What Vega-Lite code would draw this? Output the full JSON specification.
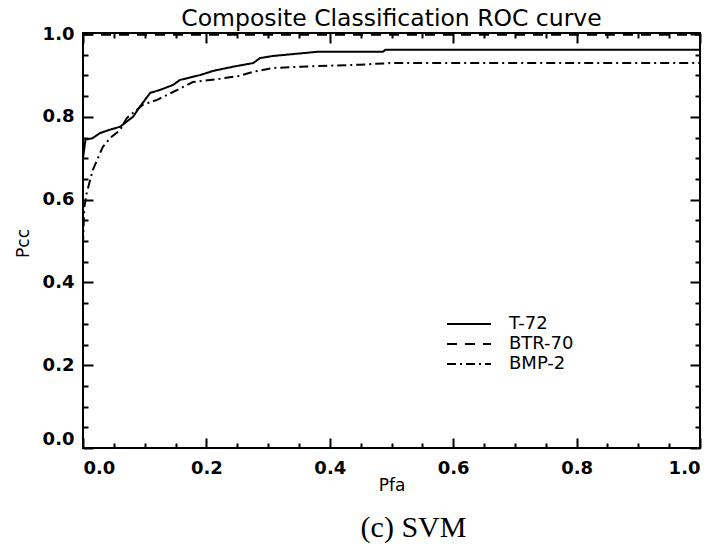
{
  "$schema": "https://vega.github.io/schema/vega-lite/v6.json",
  "width": 617,
  "height": 415,
  "autosize": {"type": "none"},
  "padding": {"left": 83, "top": 33, "right": 13, "bottom": 96},
  "background": "white",
  "title": {"text": "Composite Classification ROC curve", "font": "DejaVu Sans", "fontSize": 23.5, "fontWeight": "normal", "color": "black", "offset": -5, "anchor": "middle"},
  "config": {
    "view": {"stroke": "black", "strokeWidth": 2},
    "axis": {"domain": false, "grid": false, "tickColor": "black", "tickWidth": 2, "labelColor": "black", "titleColor": "black", "labelFont": "DejaVu Sans", "titleFont": "DejaVu Sans", "titleFontWeight": "normal"}
  },
  "data": {"values": [
    {"series": "T-72", "pfa": 0.0, "pcc": 0.70},
    {"series": "T-72", "pfa": 0.004, "pcc": 0.745},
    {"series": "T-72", "pfa": 0.015, "pcc": 0.748},
    {"series": "T-72", "pfa": 0.028, "pcc": 0.761},
    {"series": "T-72", "pfa": 0.044, "pcc": 0.769},
    {"series": "T-72", "pfa": 0.06, "pcc": 0.776},
    {"series": "T-72", "pfa": 0.081, "pcc": 0.8},
    {"series": "T-72", "pfa": 0.092, "pcc": 0.824},
    {"series": "T-72", "pfa": 0.109, "pcc": 0.858},
    {"series": "T-72", "pfa": 0.125, "pcc": 0.865},
    {"series": "T-72", "pfa": 0.146, "pcc": 0.877},
    {"series": "T-72", "pfa": 0.157, "pcc": 0.889},
    {"series": "T-72", "pfa": 0.19, "pcc": 0.901},
    {"series": "T-72", "pfa": 0.211, "pcc": 0.911},
    {"series": "T-72", "pfa": 0.243, "pcc": 0.921},
    {"series": "T-72", "pfa": 0.276, "pcc": 0.93},
    {"series": "T-72", "pfa": 0.287, "pcc": 0.942},
    {"series": "T-72", "pfa": 0.308, "pcc": 0.947},
    {"series": "T-72", "pfa": 0.379, "pcc": 0.957},
    {"series": "T-72", "pfa": 0.486, "pcc": 0.957},
    {"series": "T-72", "pfa": 0.49, "pcc": 0.962},
    {"series": "T-72", "pfa": 1.0, "pcc": 0.962},
    {"series": "BTR-70", "pfa": 0.0, "pcc": 0.998},
    {"series": "BTR-70", "pfa": 1.0, "pcc": 0.998},
    {"series": "BMP-2", "pfa": 0.0, "pcc": 0.49},
    {"series": "BMP-2", "pfa": 0.002, "pcc": 0.58},
    {"series": "BMP-2", "pfa": 0.006, "pcc": 0.616},
    {"series": "BMP-2", "pfa": 0.016, "pcc": 0.672},
    {"series": "BMP-2", "pfa": 0.023, "pcc": 0.696},
    {"series": "BMP-2", "pfa": 0.032, "pcc": 0.727},
    {"series": "BMP-2", "pfa": 0.044, "pcc": 0.749},
    {"series": "BMP-2", "pfa": 0.06, "pcc": 0.768},
    {"series": "BMP-2", "pfa": 0.071, "pcc": 0.797},
    {"series": "BMP-2", "pfa": 0.097, "pcc": 0.829},
    {"series": "BMP-2", "pfa": 0.12, "pcc": 0.841},
    {"series": "BMP-2", "pfa": 0.146, "pcc": 0.86},
    {"series": "BMP-2", "pfa": 0.178, "pcc": 0.884},
    {"series": "BMP-2", "pfa": 0.222, "pcc": 0.892},
    {"series": "BMP-2", "pfa": 0.254, "pcc": 0.899},
    {"series": "BMP-2", "pfa": 0.276, "pcc": 0.909},
    {"series": "BMP-2", "pfa": 0.308, "pcc": 0.918},
    {"series": "BMP-2", "pfa": 0.352, "pcc": 0.921},
    {"series": "BMP-2", "pfa": 0.449, "pcc": 0.926},
    {"series": "BMP-2", "pfa": 0.5, "pcc": 0.93},
    {"series": "BMP-2", "pfa": 1.0, "pcc": 0.93}
  ]},
  "resolve": {"axis": {"x": "independent", "y": "independent"}},
  "layer": [
    {
      "mark": {"type": "line", "color": "black", "strokeWidth": 2, "clip": true},
      "encoding": {
        "x": {"field": "pfa", "type": "quantitative", "scale": {"domain": [0, 1], "nice": false},
              "axis": {"orient": "bottom", "values": [0, 0.2, 0.4, 0.6, 0.8, 1.0], "format": ".1f", "tickSize": -10, "labelPadding": 21, "labelFontSize": 18, "labelFontWeight": "bold", "title": "Pfa", "titleFontSize": 17, "titleY": 42, "titleBaseline": "alphabetic"}},
        "y": {"field": "pcc", "type": "quantitative", "scale": {"domain": [0, 1.0025], "nice": false, "zero": false},
              "axis": {"orient": "left", "values": [0, 0.2, 0.4, 0.6, 0.8, 1.0], "format": ".1f", "tickSize": -10, "labelPadding": 19, "labelFontSize": 18, "labelFontWeight": "bold", "labelFlush": true, "title": "Pcc", "titleFontSize": 17, "titleX": -55, "titleY": 210, "titleBaseline": "alphabetic"}},
        "strokeDash": {"field": "series", "type": "nominal",
          "scale": {"domain": ["T-72", "BTR-70", "BMP-2"], "range": [[1, 0], [10, 8], [9, 4, 2, 4]]},
          "legend": {"title": null, "orient": "none", "legendX": 375, "legendY": 280, "symbolType": "M-2.2,0H2.2", "symbolSize": 400, "symbolStrokeWidth": 2, "symbolStrokeColor": "black", "symbolFillColor": "transparent", "labelFont": "DejaVu Sans", "labelFontSize": 18, "labelColor": "black", "labelOffset": 29, "rowPadding": 0}}
      }
    },
    {
      "mark": {"type": "point", "opacity": 0},
      "encoding": {
        "x": {"field": "pfa", "type": "quantitative", "scale": {"domain": [0, 1], "nice": false},
              "axis": {"orient": "bottom", "values": [0.05, 0.1, 0.15, 0.25, 0.3, 0.35, 0.45, 0.5, 0.55, 0.65, 0.7, 0.75, 0.85, 0.9, 0.95], "labels": false, "tickSize": -5, "title": "(c) SVM", "titleFont": "Liberation Serif", "titleFontSize": 30, "titleX": 330, "titleY": 88, "titleBaseline": "alphabetic"}},
        "y": {"field": "pcc", "type": "quantitative", "scale": {"domain": [0, 1.0025], "nice": false, "zero": false},
              "axis": {"orient": "left", "values": [0.05, 0.1, 0.15, 0.25, 0.3, 0.35, 0.45, 0.5, 0.55, 0.65, 0.7, 0.75, 0.85, 0.9, 0.95], "labels": false, "tickSize": -5, "title": null}}
      }
    },
    {
      "mark": {"type": "point", "opacity": 0},
      "encoding": {
        "x": {"field": "pfa", "type": "quantitative", "scale": {"domain": [0, 1], "nice": false},
              "axis": {"orient": "top", "values": [0, 0.2, 0.4, 0.6, 0.8, 1.0], "labels": false, "tickSize": -10, "title": null}},
        "y": {"field": "pcc", "type": "quantitative", "scale": {"domain": [0, 1.0025], "nice": false, "zero": false},
              "axis": {"orient": "right", "values": [0, 0.2, 0.4, 0.6, 0.8, 1.0], "labels": false, "tickSize": -10, "title": null}}
      }
    },
    {
      "mark": {"type": "point", "opacity": 0},
      "encoding": {
        "x": {"field": "pfa", "type": "quantitative", "scale": {"domain": [0, 1], "nice": false},
              "axis": {"orient": "top", "values": [0.05, 0.1, 0.15, 0.25, 0.3, 0.35, 0.45, 0.5, 0.55, 0.65, 0.7, 0.75, 0.85, 0.9, 0.95], "labels": false, "tickSize": -5, "title": null}},
        "y": {"field": "pcc", "type": "quantitative", "scale": {"domain": [0, 1.0025], "nice": false, "zero": false},
              "axis": {"orient": "right", "values": [0.05, 0.1, 0.15, 0.25, 0.3, 0.35, 0.45, 0.5, 0.55, 0.65, 0.7, 0.75, 0.85, 0.9, 0.95], "labels": false, "tickSize": -5, "title": null}}
      }
    }
  ]
}
